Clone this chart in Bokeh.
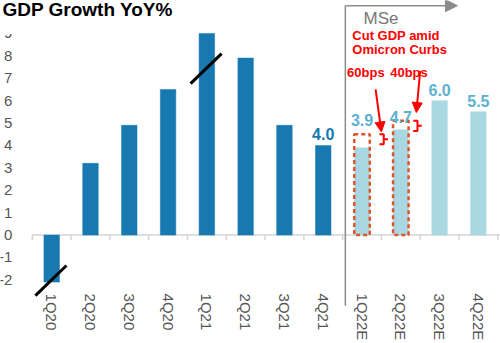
from bokeh.plotting import figure
from bokeh.models import (Range1d, FixedTicker, Label, Arrow, NormalHead, ColumnDataSource,
                          BoxAnnotation)
from bokeh.core.properties import value
from bokeh.embed import file_html
from bokeh.resources import INLINE

# ---------------- data ----------------
title_text = "GDP Growth YoY%"
quarters = ["1Q20", "2Q20", "3Q20", "4Q20", "1Q21", "2Q21", "3Q21", "4Q21",
            "1Q22E", "2Q22E", "3Q22E", "4Q22E"]
gdp = [-2.1, 3.2, 4.9, 6.5, 9.0, 7.9, 4.9, 4.0, 3.9, 4.7, 6.0, 5.5]
forecast = [False] * 8 + [True] * 4
previous_quarters = ["1Q22E", "2Q22E"]
previous_forecast = [4.5, 5.1]
cut_texts = ["60bps", "40bps"]
labelled_quarters = ["4Q21", "1Q22E", "2Q22E", "3Q22E", "4Q22E"]
broken_quarters = ["1Q20", "1Q21"]
break_levels = [-2.03, 7.43]
y_ticks = list(range(-2, 10))
note_lines = ["Cut GDP amid", "Omicron Curbs"]
estimate_text = "MSe"

# ---------------- styles ----------------
FONT = "Liberation Sans"
DARK = "#1779b0"
LIGHT = "#a9d8e3"
LIGHT_TXT = "#5cb0d0"
RED = "#ff0000"
BOX = "#e0542c"
GREY_TXT = "#555555"
SEP = "#8c8c8c"

idx = {q: i for i, q in enumerate(quarters)}
n = len(quarters)

# the frame covers the whole canvas; axes are pinned inside it
X0, X1 = -1.32, 11.57
Y0, Y1 = -4.84, 10.47
AXIS_X = -0.5      # left edge of plotting area (data)
AXIS_Y = -2.30     # where the category labels hang (data)

p = figure(width=500, height=343, output_backend="svg", toolbar_location=None,
           x_range=Range1d(X0, X1), y_range=Range1d(Y0, Y1),
           min_border_left=0, min_border_right=0, min_border_top=0,
           min_border_bottom=0)
p.outline_line_color = None
p.grid.grid_line_color = None
p.background_fill_color = "white"

# zero line + category boundary ticks
bounds = [i - 0.5 for i in range(n + 1)]
p.segment(x0=[AXIS_X], y0=[0], x1=[X1], y1=[0], line_color="#d4d4d4", line_width=1.5,
          level="underlay")
p.segment(x0=bounds, y0=[0] * len(bounds), x1=bounds, y1=[-0.22] * len(bounds),
          line_color="#d4d4d4", line_width=1.5, level="underlay")

# bars
src = ColumnDataSource(dict(x=list(range(n)), top=gdp,
                            color=[LIGHT if f else DARK for f in forecast]))
p.vbar(x="x", top="top", width=0.4, fill_color="color", line_color="color",
       line_width=0.5, source=src)

# previous forecast dashed boxes
px_ = [idx[q] for q in previous_quarters]
p.quad(left=[x - 0.2 for x in px_], right=[x + 0.2 for x in px_],
       bottom=[0] * len(px_), top=previous_forecast,
       fill_color=None, line_color=BOX, line_dash="4 3", line_width=2.5)

# value labels
lab_x, lab_y, lab_t, lab_c, lab_off = [], [], [], [], []
for q in labelled_quarters:
    i = idx[q]
    v = gdp[i]
    base = v
    off = -11
    if q in previous_quarters:
        base = previous_forecast[previous_quarters.index(q)]
        off = -14 if previous_quarters.index(q) == 0 else -4
    lab_x.append(i); lab_y.append(base); lab_t.append(f"{v:.1f}")
    lab_c.append(LIGHT_TXT if forecast[i] else DARK); lab_off.append(off)
p.text(x=lab_x, y=lab_y, text=lab_t, text_color=lab_c, y_offset=lab_off,
       text_align="center", text_baseline="alphabetic",
       text_font=value(FONT), text_font_size="16px", text_font_style="bold")

# axis break marks
for q, lv in zip(broken_quarters, break_levels):
    i = idx[q]
    p.add_layout(Arrow(end=None, x_start=i - 0.42, y_start=lv - 0.67,
                       x_end=i + 0.38, y_end=lv + 0.67,
                       line_color="black", line_width=3))

# separator with arrow (MSe estimates)
sep_x = 7.57
p.add_layout(Arrow(end=None, x_start=sep_x, y_start=-3.15, x_end=sep_x, y_end=10.24,
                   line_color=SEP, line_width=1.5))
p.add_layout(Arrow(end=NormalHead(size=12, fill_color=SEP, line_color=SEP, line_width=1),
                   x_start=sep_x, y_start=10.24, x_end=10.46, y_end=10.24,
                   line_color=SEP, line_width=1.5))
p.add_layout(Label(x=8.04, y=9.26, text=estimate_text, text_font=FONT,
                   text_font_size="17px", text_color="#777777"))

# red notes
p.add_layout(Label(x=7.75, y=8.59, text=note_lines[0], text_font=FONT,
                   text_font_size="13px", text_font_style="bold", text_color=RED))
p.add_layout(Label(x=7.75, y=7.97, text=note_lines[1], text_font=FONT,
                   text_font_size="13px", text_font_style="bold", text_color=RED))

cut_label_dx = [0.1, 0.21]
arrow_start = [(0.35, 6.5), (0.5, 7.33)]
arrow_end = [(0.5, 0.1), (0.4, 0.37)]
brace_dx = [0.45, 0.32]
for k, q in enumerate(previous_quarters):
    i = idx[q]
    orig = previous_forecast[k]
    p.add_layout(Label(x=i + cut_label_dx[k], y=6.94, text=cut_texts[k], text_font=FONT,
                       text_font_size="13px", text_font_style="bold", text_color=RED,
                       text_align="center"))
    p.add_layout(Arrow(end=NormalHead(size=10, fill_color=RED, line_color=RED),
                       x_start=i + arrow_start[k][0], y_start=arrow_start[k][1],
                       x_end=i + arrow_end[k][0], y_end=orig + arrow_end[k][1],
                       line_color=RED, line_width=2))
    x0 = i + brace_dx[k]
    w = 0.22
    xm = x0 + w / 2
    top = orig
    bot = orig - 0.45
    mid = (top + bot) / 2
    p.line(x=[x0, xm, xm, x0 + w, xm, xm, x0], y=[top, top, mid, mid, mid, bot, bot],
           line_color=RED, line_width=2)

# title on a white band that hides most of the top tick label
p.add_layout(BoxAnnotation(left=X0, right=3.22, bottom=8.97, top=Y1,
                           fill_color="white", fill_alpha=1.0, line_color=None))
p.add_layout(Label(x=-1.27, y=9.58, text=title_text, text_font=FONT,
                   text_font_size="19px", text_font_style="bold", text_color="black"))

# axes (pinned inside the frame)
xa = p.xaxis[0]
xa.fixed_location = AXIS_Y
xa.ticker = FixedTicker(ticks=list(range(n)))
xa.major_label_overrides = {i: q for i, q in enumerate(quarters)}
xa.major_label_orientation = "vertical"
xa.axis_line_color = None
xa.major_tick_line_color = None
xa.minor_tick_line_color = None
xa.major_label_standoff = 1
xa.major_label_text_font = FONT
xa.major_label_text_font_size = "15px"
xa.major_label_text_color = GREY_TXT

ya = p.yaxis[0]
ya.fixed_location = AXIS_X
ya.ticker = FixedTicker(ticks=y_ticks)
ya.major_label_overrides = {t: str(t) for t in y_ticks}
ya.axis_line_color = None
ya.major_tick_line_color = None
ya.minor_tick_line_color = None
ya.major_label_standoff = 14
ya.major_label_text_font = FONT
ya.major_label_text_font_size = "15px"
ya.major_label_text_color = GREY_TXT

open("out.html", "w").write(file_html(p, INLINE))
